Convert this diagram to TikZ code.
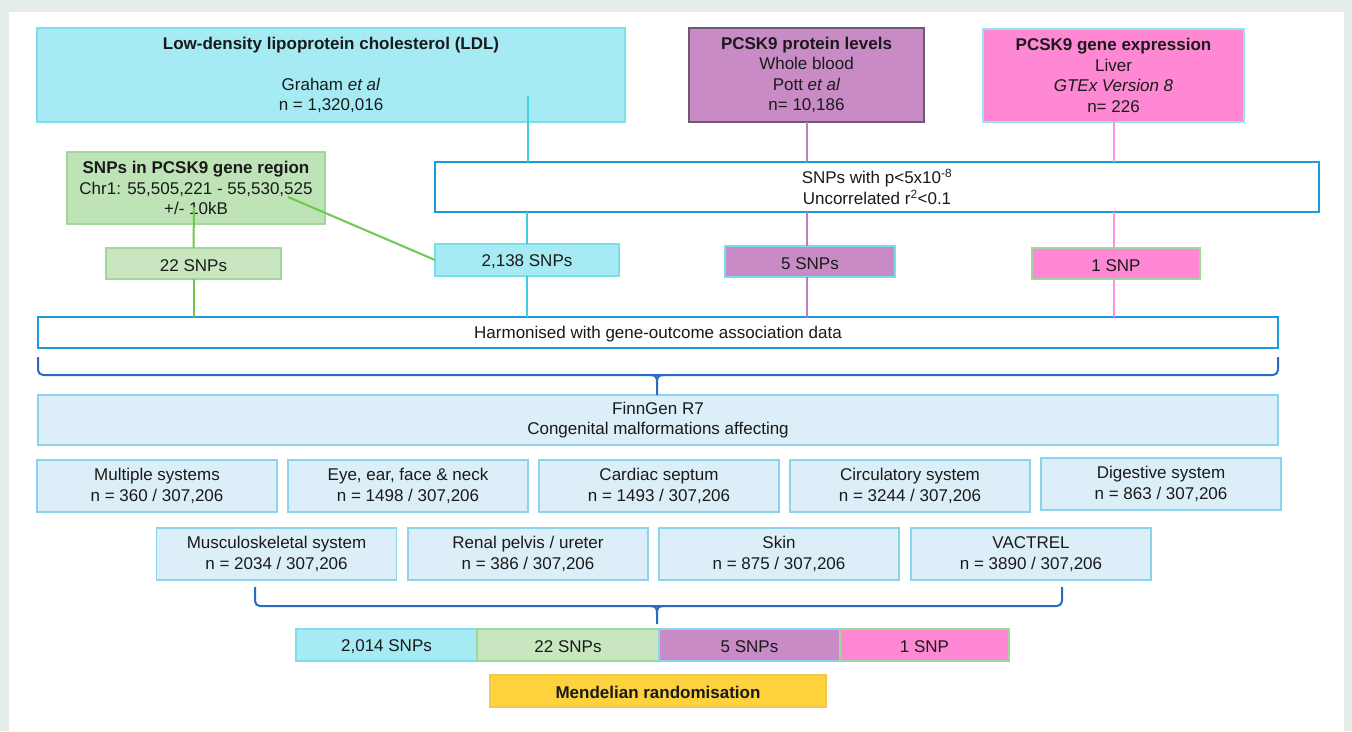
\documentclass[tikz,border=0pt]{standalone}
\usepackage{fontspec}
\setmainfont{Liberation Sans}
\newcommand\fs{\fontsize{17}{20.5}\selectfont}
\definecolor{bggreen}{HTML}{E4EDE8}
\definecolor{txt}{HTML}{1A1A1A}
\definecolor{cyanfill}{HTML}{A6EBF3}
\definecolor{cyanline}{HTML}{40CFE0}
\definecolor{cyanborder}{HTML}{7EDCEC}
\definecolor{purfill}{HTML}{C98BC6}
\definecolor{purline}{HTML}{C07CC0}
\definecolor{purborder}{HTML}{6E5A70}
\definecolor{pinkfill}{HTML}{FF88D4}
\definecolor{pinkline}{HTML}{FF90E6}
\definecolor{greenfill}{HTML}{BEE3B6}
\definecolor{greenline}{HTML}{6CC84E}
\definecolor{greenborder}{HTML}{A2D79C}
\definecolor{bluebox}{HTML}{1C9AE0}
\definecolor{lightblue}{HTML}{DCEEF8}
\definecolor{lbborder}{HTML}{8CD4EE}
\definecolor{bracec}{HTML}{2A6BC4}
\definecolor{gold}{HTML}{FDD23C}
\definecolor{goldborder}{HTML}{F0C850}
\tikzset{
  box/.style={draw, line width=1.2pt, inner sep=0pt, outer sep=0pt, align=center, font=\fs, text=txt,
    execute at begin node={\rule{0pt}{15.5pt}}},
  cyanbox/.style={box, fill=cyanfill, draw=cyanborder},
  purbox/.style={box, fill=purfill, draw=purborder},
  pinkbox/.style={box, fill=pinkfill, draw=cyanborder!80},
  greenbox/.style={box, fill=greenfill, draw=greenborder},
  whitebox/.style={box, fill=white, draw=bluebox, line width=1.5pt},
  lbbox/.style={box, fill=lightblue, draw=lbborder, minimum width=240pt, minimum height=52pt},
  cyanconn/.style={draw=cyanline, line width=2pt},
  purconn/.style={draw=purline, line width=2pt},
  pinkconn/.style={draw=pinkline, line width=2pt},
  greenconn/.style={draw=greenline, line width=2pt},
  brace/.style={draw=bracec, line width=2pt},
}
\begin{document}
\begin{tikzpicture}[x=1pt, y=-1pt]
\fill[bggreen] (0,0) rectangle (1352,731);
\fill[white] (9,12) rectangle (1344,731);
\useasboundingbox (0,0) rectangle (1352,731);

% top source boxes
\node[cyanbox, minimum width=588pt, minimum height=94pt] (ldl) at (331,75)
  {\textbf{Low-density lipoprotein cholesterol (LDL)}\\[20.5pt] Graham \textit{et al}\\ n = 1,320,016};
\node[purbox, line width=1.5pt, minimum width=235pt, minimum height=94pt] (prot) at (806.5,75)
  {\textbf{PCSK9 protein levels}\\ Whole blood\\ Pott \textit{et al}\\ n= 10,186};
\node[pinkbox, minimum width=261pt, minimum height=93pt] (gene) at (1113.5,75.5)
  {\textbf{PCSK9 gene expression}\\ Liver\\ \textit{GTEx Version 8}\\ n= 226};

\node[greenbox, minimum width=258pt, minimum height=72pt] (reg) at (196,188)
  {\textbf{SNPs in PCSK9 gene region}\\ Chr1: 55,505,221 - 55,530,525\\ +/- 10kB};
\node[whitebox, minimum width=884pt, minimum height=50pt] (pthr) at (877,187)
  {SNPs with p<5x10\textsuperscript{-8}\\ Uncorrelated r\textsuperscript{2}<0.1};

% SNP count boxes
\node[greenbox, fill=greenfill!85!white, minimum width=175pt, minimum height=31pt] (s22) at (193.5,263.5) {22 SNPs};
\node[cyanbox, draw=cyanline!70, minimum width=184pt, minimum height=32pt] (s2138) at (527,260) {2,138 SNPs};
\node[purbox, draw=cyanline!70, minimum width=170pt, minimum height=31pt] (s5) at (810,261.5) {5 SNPs};
\node[pinkbox, draw=greenborder, minimum width=168pt, minimum height=31pt] (s1) at (1116,263.5) {1 SNP};

\node[whitebox, minimum width=1240pt, minimum height=31pt] (harm) at (658,332.5) {Harmonised with gene-outcome association data};

\node[box, fill=lightblue, draw=lbborder, minimum width=1240pt, minimum height=50pt] (finn) at (658,420)
  {FinnGen R7\\ Congenital malformations affecting};

% outcome boxes
\node[lbbox] (multi) at (157,486) {Multiple systems\\ n = 360 / 307,206};
\node[lbbox] (eye) at (408,486) {Eye, ear, face \& neck\\ n = 1498 / 307,206};
\node[lbbox] (card) at (659,486) {Cardiac septum\\ n = 1493 / 307,206};
\node[lbbox] (circ) at (910,486) {Circulatory system\\ n = 3244 / 307,206};
\node[lbbox] (dig) at (1161,484) {Digestive system\\ n = 863 / 307,206};
\node[lbbox] (musc) at (276.5,554) {Musculoskeletal system\\ n = 2034 / 307,206};
\node[lbbox] (renal) at (528,554) {Renal pelvis / ureter\\ n = 386 / 307,206};
\node[lbbox] (skin) at (779,554) {Skin\\ n = 875 / 307,206};
\node[lbbox] (vac) at (1031,554) {VACTREL\\ n = 3890 / 307,206};

% bottom bar
\node[cyanbox, minimum width=181pt, minimum height=32pt] (b1) at (386.5,645) {2,014 SNPs};
\node[greenbox, fill=greenfill!85!white, minimum width=182pt, minimum height=32pt] (b2) at (568,645) {22 SNPs};
\node[purbox, draw=lbborder, minimum width=181pt, minimum height=32pt] (b3) at (749.5,645) {5 SNPs};
\node[pinkbox, draw=greenborder, minimum width=169pt, minimum height=32pt] (b4) at (924.5,645) {1 SNP};

\node[box, fill=gold, draw=goldborder, minimum width=336pt, minimum height=32pt] (mr) at (658,691) {\textbf{Mendelian randomisation}};

% connectors
\coordinate (ldlin) at (528,96);
\coordinate (regin) at (194,207);
\coordinate (regdiag) at (288,197);
\draw[cyanconn] (ldlin) -- (ldlin |- pthr.north);
\draw[cyanconn] (s2138.north |- pthr.south) -- (s2138.north);
\draw[cyanconn] (s2138.south) -- (s2138.south |- harm.north);
\draw[purconn] (prot.south) -- (prot.south |- pthr.north);
\draw[purconn] (prot.south |- pthr.south) -- (prot.south |- s5.north);
\draw[purconn] (prot.south |- s5.south) -- (prot.south |- harm.north);
\draw[pinkconn] (gene.south) -- (gene.south |- pthr.north);
\draw[pinkconn] (gene.south |- pthr.south) -- (gene.south |- s1.north);
\draw[pinkconn] (gene.south |- s1.south) -- (gene.south |- harm.north);
\draw[greenconn] (regin) -- (s22.north);
\draw[greenconn] (s22.south) -- (s22.south |- harm.north);
\draw[greenconn] (regdiag) -- (s2138.west);

% braces
\coordinate (br1l) at (38,357);
\coordinate (br1r) at (1278,357);
\coordinate (br1m) at (657,375);
\draw[brace, rounded corners=5pt] (br1l) -- (br1l |- br1m) -- (br1r |- br1m) -- (br1r);
\draw[brace] ([xshift=-7pt]br1m) .. controls ([xshift=-1pt]br1m) and ([yshift=-2pt]br1m) .. ([yshift=-8pt]br1m) -- (br1m |- finn.north);
\draw[brace] ([xshift=7pt]br1m) .. controls ([xshift=1pt]br1m) and ([yshift=-2pt]br1m) .. ([yshift=-8pt]br1m);
\coordinate (br2l) at (255,587);
\coordinate (br2r) at (1062,587);
\coordinate (br2m) at (657,606);
\draw[brace, rounded corners=5pt] (br2l) -- (br2l |- br2m) -- (br2r |- br2m) -- (br2r);
\draw[brace] ([xshift=-7pt]br2m) .. controls ([xshift=-1pt]br2m) and ([yshift=-2pt]br2m) .. ([yshift=-8pt]br2m) -- ([yshift=-18pt]br2m);
\draw[brace] ([xshift=7pt]br2m) .. controls ([xshift=1pt]br2m) and ([yshift=-2pt]br2m) .. ([yshift=-8pt]br2m);
\end{tikzpicture}
\end{document}
